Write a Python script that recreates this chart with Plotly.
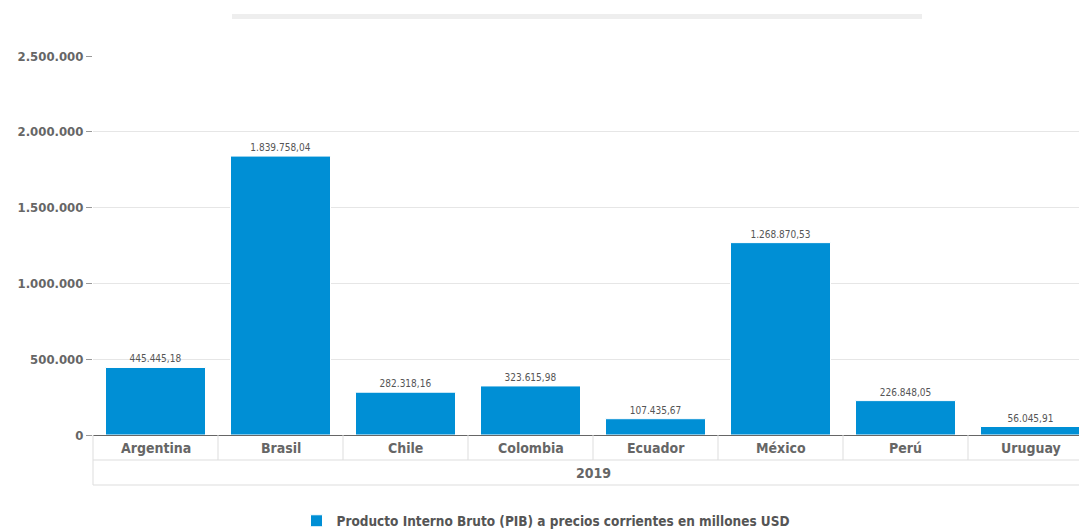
import plotly.graph_objects as go

countries = ["Argentina", "Brasil", "Chile", "Colombia", "Ecuador", "México", "Perú", "Uruguay"]
pib = [445445.18, 1839758.04, 282318.16, 323615.98, 107435.67, 1268870.53, 226848.05, 56045.91]
year_label = "2019"
series_name = "Producto Interno Bruto (PIB) a precios corrientes en millones USD"
y_ticks = [0, 500000, 1000000, 1500000, 2000000, 2500000]


def fmt_es(v):
    s = f"{v:,.2f}"
    return s.replace(",", "X").replace(".", ",").replace("X", ".")


def fmt_int(v):
    return f"{v:,.0f}".replace(",", ".")


FONT = "DejaVu Sans Condensed"
W, H = 1079, 530
top, bottom_px, left = 56, 435, 93
plot_h = bottom_px - top
cat_w = 125.0
n = len(countries)
x_max = -0.5 + (W - left) / cat_w

fig = go.Figure()
fig.add_trace(go.Bar(
    x=list(range(n)), y=pib, name="<b>%s</b>" % series_name,
    marker=dict(color="#008fd5", line=dict(color="#ffffff", width=1)),
    text=[fmt_es(v) for v in pib], textposition="outside",
    textfont=dict(family=FONT, size=10, color="#555555"),
    cliponaxis=False, hoverinfo="skip", showlegend=True,
))


def py(px):
    return (bottom_px - px) / plot_h


shapes = []
line_c = "#dddddd"
for ypx in (460, 485):
    shapes.append(dict(type="line", xref="paper", yref="paper", x0=0, x1=1,
                       y0=py(ypx), y1=py(ypx), line=dict(color=line_c, width=1)))
shapes.append(dict(type="line", xref="paper", yref="paper", x0=0, x1=0,
                   y0=0, y1=py(485), line=dict(color=line_c, width=1)))
for i in range(1, n):
    shapes.append(dict(type="line", xref="x", yref="paper", x0=i - 0.5, x1=i - 0.5,
                       y0=0, y1=py(460), line=dict(color=line_c, width=1)))
shapes.append(dict(type="rect", xref="paper", yref="paper",
                   x0=(232 - left) / (W - left), x1=(922 - left) / (W - left),
                   y0=py(19), y1=py(14), fillcolor="#eeeeee", line=dict(width=0), layer="above"))

annotations = []
for i, c in enumerate(countries):
    annotations.append(dict(x=i, y=py(448), xref="x", yref="paper", text="<b>%s</b>" % c, showarrow=False,
                            font=dict(family=FONT, size=14, color="#666666"),
                            xanchor="center", yanchor="middle"))
annotations.append(dict(x=(n - 1) / 2, y=py(473), xref="x", yref="paper", text="<b>%s</b>" % year_label,
                        showarrow=False, font=dict(family=FONT, size=14, color="#666666"),
                        xanchor="center", yanchor="middle"))

fig.update_layout(
    width=W, height=H,
    margin=dict(l=left, r=0, t=top, b=H - bottom_px, pad=0),
    paper_bgcolor="white", plot_bgcolor="white",
    separators=",.",
    bargap=0.2,
    font=dict(family=FONT, color="#666666"),
    xaxis=dict(range=[-0.5, x_max], showticklabels=False, showgrid=False, zeroline=False,
               showline=False, ticks=""),
    yaxis=dict(range=[0, 2500000], tickvals=y_ticks, ticktext=["<b>%s</b>" % fmt_int(v) for v in y_ticks],
               showgrid=True, gridcolor="#e6e6e6", gridwidth=1,
               zeroline=True, zerolinecolor="#666666", zerolinewidth=1,
               ticks="outside", ticklen=6, tickcolor="#999999",
               tickfont=dict(family=FONT, size=13, color="#666666")),
    shapes=shapes, annotations=annotations,
    legend=dict(orientation="h", xref="container", yref="container", x=546 / W, y=1 - 521 / H,
                xanchor="center", yanchor="middle", itemwidth=30,
                font=dict(family=FONT, size=13.5, color="#555555")),
)

fig.write_html("out.html", config={"displayModeBar": False},
               post_script="document.body.style.margin='0';")
